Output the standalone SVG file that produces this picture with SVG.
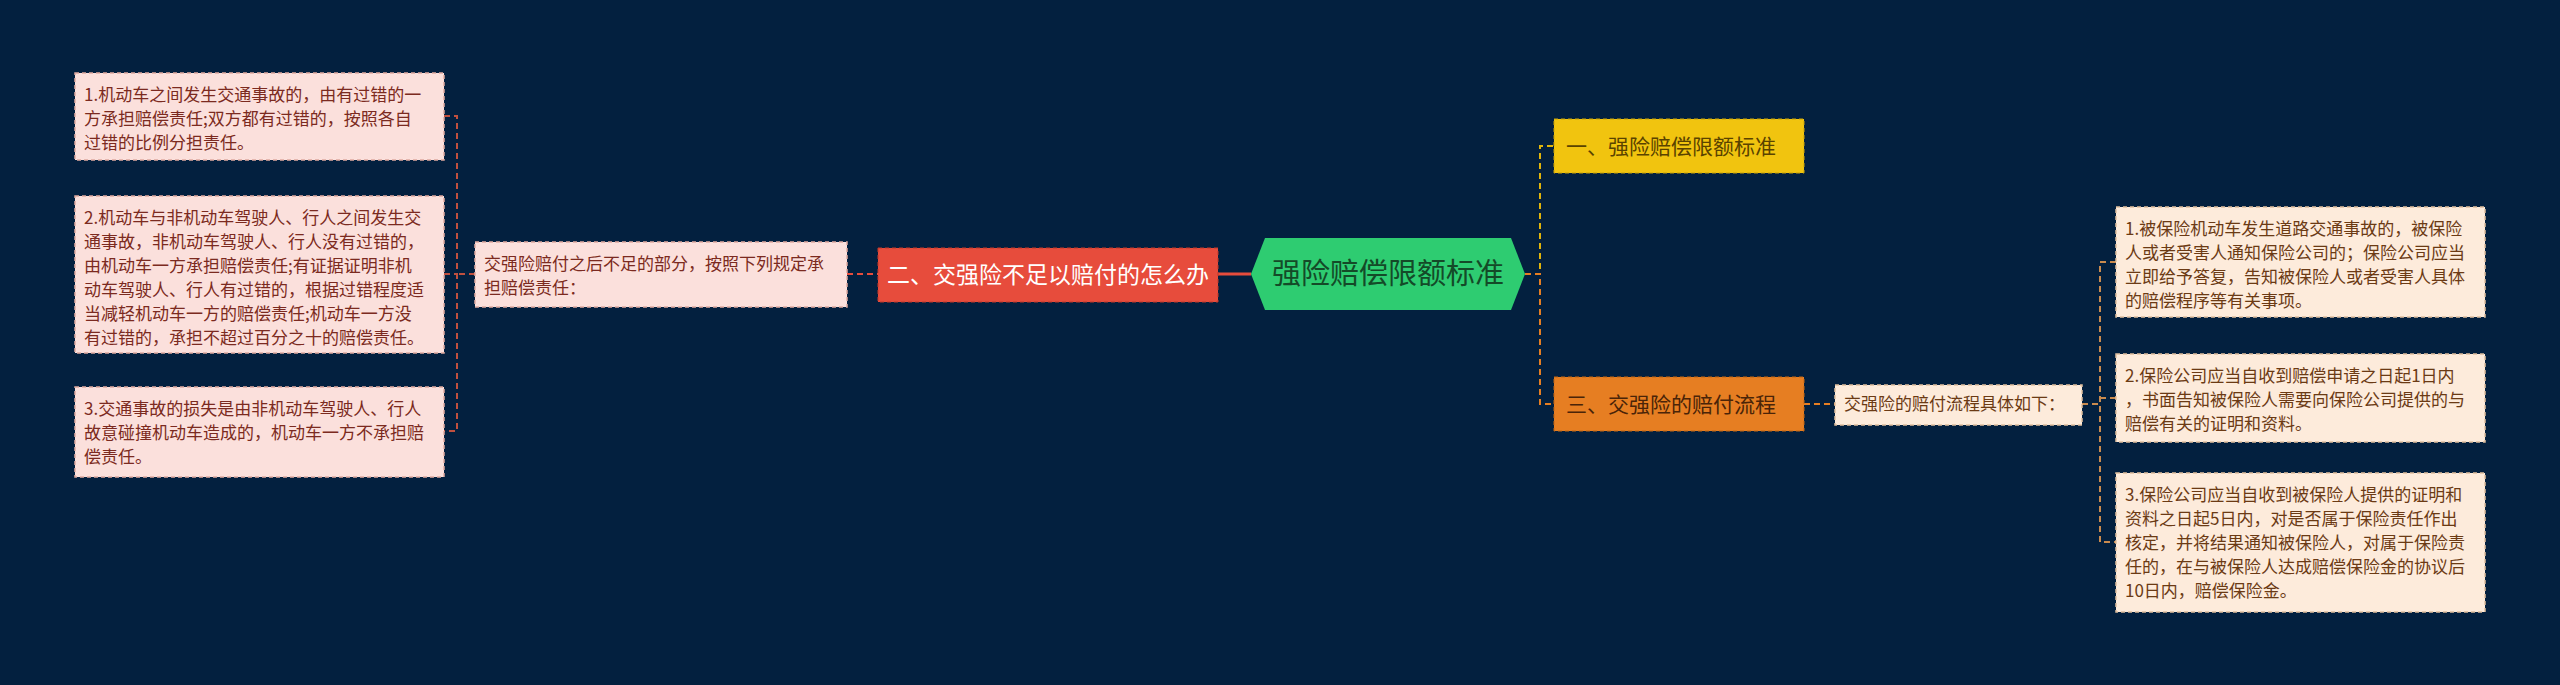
<svg xmlns="http://www.w3.org/2000/svg" width="2560" height="685" viewBox="0 0 2560 685">
<style>
text{font-family:"Noto Sans CJK SC","Liberation Sans",sans-serif}
.lb{fill:#fbe0dc;stroke:#e0a9a0;stroke-width:1.5;stroke-dasharray:4 3}
.lt{font-size:17px;fill:#7b2a20}
.rb{fill:#fdebdb;stroke:#e0bf9e;stroke-width:1.5;stroke-dasharray:4 3}
.rt{font-size:17px;fill:#6b3a14}
.c{fill:none;stroke-width:2;stroke-dasharray:6 4}
</style>
<rect width="2560" height="685" fill="#03203f"/>
<g id="connectors">
<line x1="1218" y1="274" x2="1251" y2="274" stroke="#e74c3c" stroke-width="3"/>
<path class="c" stroke="#e74c3c" d="M847 274H878"/>
<path class="c" stroke="#c0503f" d="M475 274H457M444 116H457V431H444M444 274H457"/>
<path class="c" stroke="#e0b50c" d="M1525 274H1540V146H1554"/>
<path class="c" stroke="#e67e22" d="M1525 274H1540V404H1554M1804 404H1835"/>
<path class="c" stroke="#c98a4e" d="M2082 404H2100M2116 262H2100V542H2116M2100 398H2116"/>
</g>
<g id="left1"><rect class="lb" x="75" y="73" width="369" height="87"/>
<text class="lt" x="84" y="101">1.机动车之间发生交通事故的，由有过错的一</text>
<text class="lt" x="84" y="125">方承担赔偿责任;双方都有过错的，按照各自</text>
<text class="lt" x="84" y="149">过错的比例分担责任。</text></g>
<g id="left2"><rect class="lb" x="75" y="196" width="369" height="157"/>
<text class="lt" x="84" y="224">2.机动车与非机动车驾驶人、行人之间发生交</text>
<text class="lt" x="84" y="248">通事故，非机动车驾驶人、行人没有过错的，</text>
<text class="lt" x="84" y="272">由机动车一方承担赔偿责任;有证据证明非机</text>
<text class="lt" x="84" y="296">动车驾驶人、行人有过错的，根据过错程度适</text>
<text class="lt" x="84" y="320">当减轻机动车一方的赔偿责任;机动车一方没</text>
<text class="lt" x="84" y="344">有过错的，承担不超过百分之十的赔偿责任。</text></g>
<g id="left3"><rect class="lb" x="75" y="387" width="369" height="90"/>
<text class="lt" x="84" y="415">3.交通事故的损失是由非机动车驾驶人、行人</text>
<text class="lt" x="84" y="439">故意碰撞机动车造成的，机动车一方不承担赔</text>
<text class="lt" x="84" y="463">偿责任。</text></g>
<g id="mid"><rect class="lb" x="475" y="242" width="372" height="65"/>
<text class="lt" x="484" y="270">交强险赔付之后不足的部分，按照下列规定承</text>
<text class="lt" x="484" y="294">担赔偿责任：</text></g>
<g id="red"><rect x="878" y="248" width="340" height="54" fill="#e74c3c" stroke="#c0392b" stroke-dasharray="4 3"/>
<text x="1048" y="283" font-size="23" fill="#fff" text-anchor="middle">二、交强险不足以赔付的怎么办</text></g>
<g id="center"><polygon points="1265,238 1511,238 1525,274 1511,310 1265,310 1251,274" fill="#2ecc71"/>
<text x="1388" y="284" font-size="29" fill="#144a28" text-anchor="middle">强险赔偿限额标准</text></g>
<g id="yellow"><rect x="1554" y="119" width="250" height="54" fill="#f1c40f" stroke="#c9a20a" stroke-dasharray="4 3"/>
<text x="1566" y="154" font-size="21" fill="#5a4300">一、强险赔偿限额标准</text></g>
<g id="orange"><rect x="1554" y="377" width="250" height="54" fill="#e67e22" stroke="#c26615" stroke-dasharray="4 3"/>
<text x="1566" y="412" font-size="21" fill="#4a2408">三、交强险的赔付流程</text></g>
<g id="flow"><rect class="rb" x="1835" y="385" width="247" height="40"/>
<text class="rt" x="1844" y="410">交强险的赔付流程具体如下：</text></g>
<g id="right1"><rect class="rb" x="2116" y="207" width="369" height="110"/>
<text class="rt" x="2125" y="235">1.被保险机动车发生道路交通事故的，被保险</text>
<text class="rt" x="2125" y="259">人或者受害人通知保险公司的；保险公司应当</text>
<text class="rt" x="2125" y="283">立即给予答复，告知被保险人或者受害人具体</text>
<text class="rt" x="2125" y="307">的赔偿程序等有关事项。</text></g>
<g id="right2"><rect class="rb" x="2116" y="354" width="369" height="88"/>
<text class="rt" x="2125" y="382">2.保险公司应当自收到赔偿申请之日起1日内</text>
<text class="rt" x="2125" y="406">，书面告知被保险人需要向保险公司提供的与</text>
<text class="rt" x="2125" y="430">赔偿有关的证明和资料。</text></g>
<g id="right3"><rect class="rb" x="2116" y="473" width="369" height="139"/>
<text class="rt" x="2125" y="501">3.保险公司应当自收到被保险人提供的证明和</text>
<text class="rt" x="2125" y="525">资料之日起5日内，对是否属于保险责任作出</text>
<text class="rt" x="2125" y="549">核定，并将结果通知被保险人，对属于保险责</text>
<text class="rt" x="2125" y="573">任的，在与被保险人达成赔偿保险金的协议后</text>
<text class="rt" x="2125" y="597">10日内，赔偿保险金。</text></g>
</svg>
